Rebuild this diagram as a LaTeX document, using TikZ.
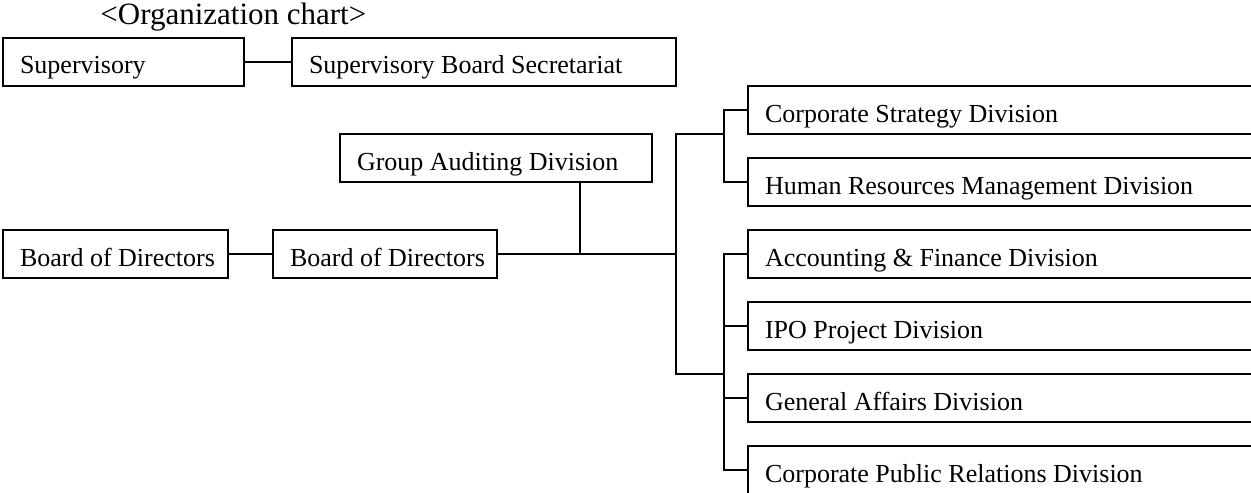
\documentclass[tikz,border=0pt]{standalone}
\usepackage{fontspec}
\setmainfont{Liberation Serif}
\begin{document}
\begin{tikzpicture}[
  x=0.5pt, y=-0.5pt,
  box/.style={rectangle, draw, line width=1.1pt, anchor=north west,
              minimum height=24pt, inner xsep=8.5pt, inner ysep=0pt,
              outer sep=0pt, text width=#1, text height=12pt,
              text depth=0pt, align=flush left,
              font=\fontsize{13}{15}\selectfont},
  link/.style={line width=1.1pt},
  title/.style={anchor=base west, inner sep=0pt,
                font=\fontsize{15.5}{18}\selectfont}
]
  \useasboundingbox (0,0) rectangle (1251,492);
  \clip (0,0) rectangle (1251,492);

  \node[title] (head) at (100,25) {<Organization chart>};

  % left column
  \node[box=103.5pt] (sup)  at (3,38)    {Supervisory};
  \node[box=175pt]   (sec)  at (292,38)  {Supervisory Board Secretariat};
  \node[box=95.5pt]  (bod1) at (3,230)   {\mbox{Board of Directors}};
  \node[box=95pt]    (bod2) at (273,230) {\mbox{Board of Directors}};
  \node[box=139pt]   (aud)  at (340,134) {Group Auditing Division};

  % divisions, running off the right edge
  \node[box=283pt] (cs)  at (748,86)  {Corporate Strategy Division};
  \node[box=283pt] (hr)  at (748,158) {Human Resources Management Division};
  \node[box=283pt] (af)  at (748,230) {Accounting \& Finance Division};
  \node[box=283pt] (ipo) at (748,302) {IPO Project Division};
  \node[box=283pt] (ga)  at (748,374) {General Affairs Division};
  \node[box=283pt] (pr)  at (748,446) {Corporate Public Relations Division};

  \coordinate (audjoin) at (580,254);
  \coordinate (trunk)   at (676,254);
  \coordinate (upfork)  at (724,134);
  \coordinate (lowfork) at (724,374);

  \draw[link] (sup.east) -- (sec.west);
  \draw[link] (bod1.east) -- (bod2.west);
  \draw[link] (bod2.east) -- (trunk);
  \draw[link] (aud.south -| audjoin) -- (audjoin);

  \draw[link] (upfork) -- (upfork -| trunk) -- (lowfork -| trunk) -- (lowfork);
  \draw[link] (cs.west) -| (upfork) |- (hr.west);
  \draw[link] (af.west) -| (lowfork) |- (pr.west);
  \foreach \n in {ipo, ga}
    \draw[link] (\n.west) -- (\n.west -| lowfork);
\end{tikzpicture}
\end{document}
